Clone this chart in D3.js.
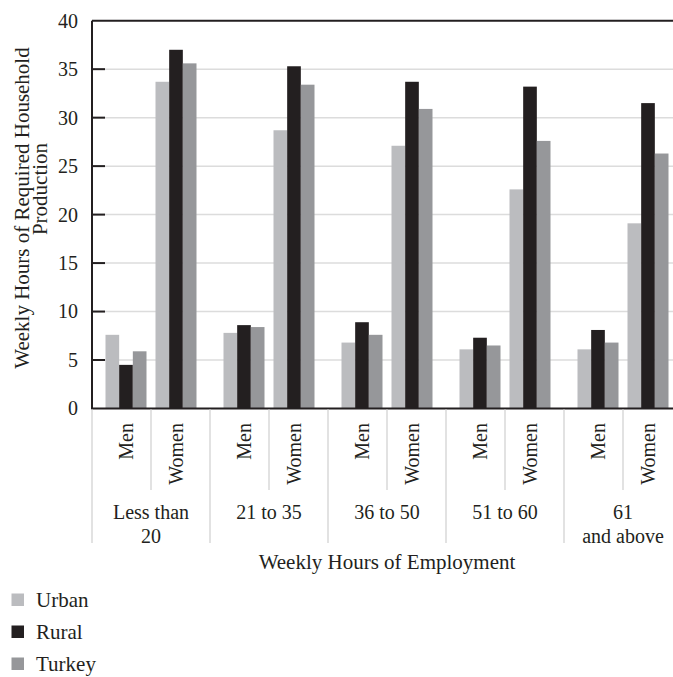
<!DOCTYPE html>
<html>
<head>
<meta charset="utf-8">
<script src="https://cdn.jsdelivr.net/npm/d3@7"></script>
<style>
  html, body { margin: 0; padding: 0; background: #fff; overflow: hidden; }
  text { font-family: "Liberation Serif", "DejaVu Serif", serif; fill: #231f20; }
</style>
</head>
<body>
<svg id="chart" width="673" height="677"></svg>
<script>
// ---- data ----
const groups = ["Less than 20", "21 to 35", "36 to 50", "51 to 60", "61 and above"];
const groupLabelLines = [["Less than", "20"], ["21 to 35"], ["36 to 50"], ["51 to 60"], ["61", "and above"]];
const genders = ["Men", "Women"];
const seriesNames = ["Urban", "Rural", "Turkey"];
const seriesColors = ["#bbbcbf", "#231f20", "#96979a"];
// values[group][gender] = [Urban, Rural, Turkey]
const urban = [[7.6, 33.7], [7.8, 28.7], [6.8, 27.1], [6.1, 22.6], [6.1, 19.1]];
const rural = [[4.5, 37.0], [8.6, 35.3], [8.9, 33.7], [7.3, 33.2], [8.1, 31.5]];
const turkey = [[5.9, 35.6], [8.4, 33.4], [7.6, 30.9], [6.5, 27.6], [6.8, 26.3]];
const yTicks = [0, 5, 10, 15, 20, 25, 30, 35, 40];

const svg = d3.select("#chart");
const pLeft = 92, pRight = 682, pTop = 20.7, pBottom = 408.5;
const dark = "#231f20", grid = "#dcdcdc", sep = "#d9d9d9";

const y = d3.scaleLinear().domain([0, 40]).range([pBottom, pTop]);
const xGroup = d3.scaleBand().domain(groups).range([pLeft, pRight]).padding(0);
const xGender = d3.scaleBand().domain(genders).range([0, xGroup.bandwidth()])
  .paddingInner(0.18).paddingOuter(0.27);
const xSeries = d3.scaleBand().domain(seriesNames).range([0, xGender.bandwidth()]).padding(0);

// gridlines
svg.append("g").selectAll("line").data(yTicks.filter(d => d > 0 && d < 40)).join("line")
  .attr("x1", pLeft).attr("x2", pRight)
  .attr("y1", d => y(d)).attr("y2", d => y(d))
  .attr("stroke", grid).attr("stroke-width", 1.5);

// bars
const rows = [];
groups.forEach((g, gi) => genders.forEach((s, si) => {
  [urban, rural, turkey].forEach((arr, k) => {
    rows.push({ g, s, series: seriesNames[k], v: arr[gi][si], color: seriesColors[k] });
  });
}));
svg.append("g").selectAll("rect").data(rows).join("rect")
  .attr("x", d => xGroup(d.g) + xGender(d.s) + xSeries(d.series))
  .attr("width", xSeries.bandwidth())
  .attr("y", d => y(d.v))
  .attr("height", d => y(0) - y(d.v))
  .attr("fill", d => d.color);

// y axis with inward ticks
const yAxis = d3.axisLeft(y).tickValues(yTicks).tickSize(0).tickPadding(14);
const yg = svg.append("g").attr("transform", `translate(${pLeft},0)`).call(yAxis);
yg.select(".domain").remove();
yg.selectAll("text").style("font-size", "20px").style("font-family", "Liberation Serif, serif").attr("fill", dark);
svg.append("g").selectAll("line").data(yTicks.filter(d => d > 0 && d < 40)).join("line")
  .attr("x1", pLeft).attr("x2", pLeft + 13)
  .attr("y1", d => y(d)).attr("y2", d => y(d))
  .attr("stroke", dark).attr("stroke-width", 2);

// plot frame
svg.append("line").attr("x1", pLeft).attr("x2", pLeft).attr("y1", pTop).attr("y2", pBottom)
  .attr("stroke", dark).attr("stroke-width", 2);
svg.append("line").attr("x1", pLeft).attr("x2", pRight + 5).attr("y1", pTop).attr("y2", pTop)
  .attr("stroke", dark).attr("stroke-width", 2);
svg.append("line").attr("x1", pLeft - 1).attr("x2", pRight + 5).attr("y1", pBottom).attr("y2", pBottom)
  .attr("stroke", dark).attr("stroke-width", 2);

// category separators
const sepG = svg.append("g");
groups.forEach(g => {
  const x0 = xGroup(g);
  sepG.append("line").attr("x1", x0).attr("x2", x0).attr("y1", pBottom + 1).attr("y2", 543)
    .attr("stroke", sep).attr("stroke-width", 1.5);
  const xm = x0 + xGroup.bandwidth() / 2;
  sepG.append("line").attr("x1", xm).attr("x2", xm).attr("y1", pBottom + 1).attr("y2", 490)
    .attr("stroke", sep).attr("stroke-width", 1.5);
});

// gender labels (rotated)
const gl = svg.append("g");
groups.forEach(g => genders.forEach(s => {
  const cx = xGroup(g) + xGender(s) + xGender.bandwidth() / 2;
  gl.append("text")
    .attr("transform", `translate(${cx},423) rotate(-90)`)
    .attr("text-anchor", "end").attr("dominant-baseline", "central")
    .style("font-size", "20px").text(s);
}));

// group labels
const grl = svg.append("g");
groups.forEach((g, i) => {
  const cx = xGroup(g) + xGroup.bandwidth() / 2;
  groupLabelLines[i].forEach((line, li) => {
    grl.append("text").attr("x", cx).attr("y", 519 + li * 24)
      .attr("text-anchor", "middle").style("font-size", "20px").text(line);
  });
});

// axis titles
svg.append("text").attr("x", 387).attr("y", 569).attr("text-anchor", "middle")
  .style("font-size", "21px").text("Weekly Hours of Employment");
svg.append("text").attr("transform", "translate(29,208) rotate(-90)")
  .attr("text-anchor", "middle")
  .style("font-size", "21px").text("Weekly Hours of Required Household");
svg.append("text").attr("transform", "translate(47,189) rotate(-90)")
  .attr("text-anchor", "middle")
  .style("font-size", "21px").text("Production");

// legend
const lg = svg.append("g");
seriesNames.forEach((n, i) => {
  const cy = 600 + i * 32;
  lg.append("rect").attr("x", 11.5).attr("y", cy - 6.5).attr("width", 12.5).attr("height", 12.5)
    .attr("fill", seriesColors[i]);
  lg.append("text").attr("x", 36).attr("y", cy).attr("dominant-baseline", "central")
    .style("font-size", "21px").text(n);
});
</script>
</body>
</html>
